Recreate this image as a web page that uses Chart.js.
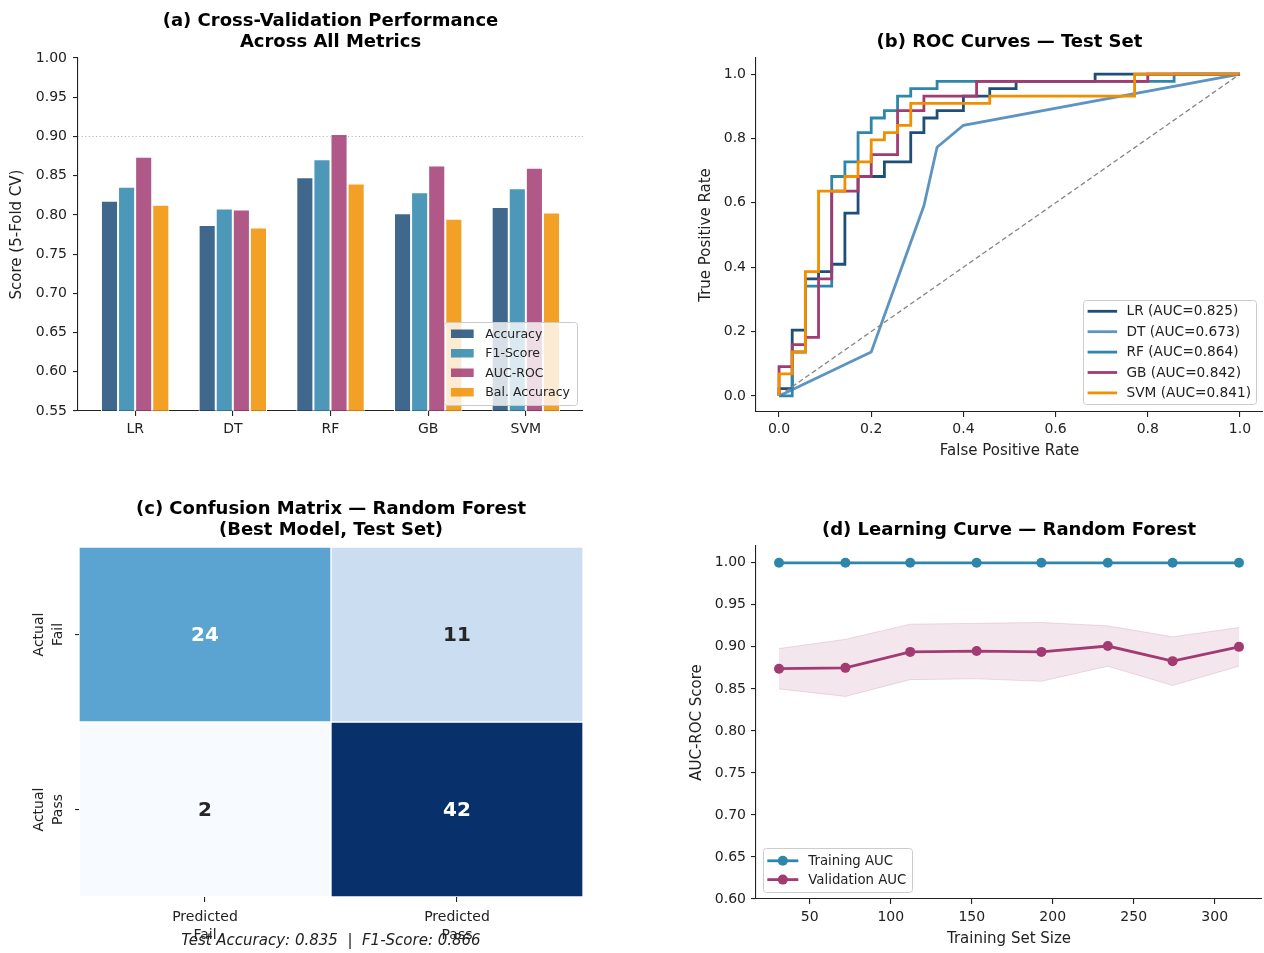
<!DOCTYPE html>
<html lang="en">
<head>
<meta charset="utf-8">
<title>Student Outcome Models — Evaluation Summary</title>
<script src="https://cdn.jsdelivr.net/npm/chart.js@4.4.1/dist/chart.umd.min.js"></script>
<style>
  html, body { margin: 0; padding: 0; background: #ffffff; }
  #figure { position: relative; width: 1264px; height: 953px; overflow: hidden; background: #ffffff; }
  #figure canvas { position: absolute; }
</style>
</head>
<body>
<div id="figure">
  <canvas id="cvChart"  width="600" height="470" style="left:0;top:0"></canvas>
  <canvas id="rocChart" width="624" height="470" style="left:640px;top:0"></canvas>
  <canvas id="cmChart"  width="600" height="473" style="left:0;top:480px"></canvas>
  <canvas id="lcChart"  width="624" height="473" style="left:640px;top:480px"></canvas>
</div>
<script>
// ---------------- data ----------------
// (a) 5-fold cross-validation scores per model
const models = ['LR', 'DT', 'RF', 'GB', 'SVM'];
const metricNames = ['Accuracy', 'F1-Score', 'AUC-ROC', 'Bal. Accuracy'];
const cvAccuracy    = [0.818, 0.787, 0.848, 0.802, 0.810];
const cvF1          = [0.836, 0.808, 0.871, 0.829, 0.834];
const cvAucRoc      = [0.874, 0.807, 0.903, 0.863, 0.860];
const cvBalAccuracy = [0.813, 0.784, 0.840, 0.795, 0.803];
const cvTicks = [0.55, 0.60, 0.65, 0.70, 0.75, 0.80, 0.85, 0.90, 0.95, 1.00];
const cvReference = 0.90;

// (c) confusion matrix of the random forest on the test set
// rows: actual class, columns: predicted class
const classNames = ['Fail', 'Pass'];
const confusion = [[24, 11], [2, 42]];

// (b) ROC curve vertices on the test set, as counts of false / true positives
const lrFalsePos  = [0,0,1,1,2,2,3,3,4,4,5,5,6,6,8,8,10,10,11,11,12,12,14,14,16,16,18,18,24,24,35];
const lrTruePos   = [0,1,1,9,9,16,16,17,17,18,18,25,25,30,30,32,32,36,36,38,38,39,39,41,41,42,42,43,43,44,44];
const dtFalsePos  = [0,7,11,12,14,35];
const dtTruePos   = [0,6,26,34,37,44];
const rfFalsePos  = [0,1,1,2,2,4,4,5,5,6,6,7,7,8,8,9,9,10,10,12,12,30,30,35];
const rfTruePos   = [0,0,6,6,15,15,30,30,32,32,36,36,38,38,39,39,41,41,42,42,43,43,44,44];
const gbFalsePos  = [0,0,1,1,2,2,3,3,4,4,6,6,7,7,9,9,11,11,15,15,28,28,35];
const gbTruePos   = [0,4,4,7,7,8,8,16,16,28,28,30,30,33,33,39,39,41,41,43,43,44,44];
const svmFalsePos = [0,0,1,1,2,2,3,3,5,5,6,6,7,7,8,8,9,9,10,10,16,16,27,27,35];
const svmTruePos  = [0,3,3,6,6,17,17,28,28,30,30,32,32,35,35,36,36,37,37,40,40,41,41,44,44];
const rateTicks = [0, 0.2, 0.4, 0.6, 0.8, 1.0];

// (d) learning curve of the random forest
const trainSizes = [31, 72, 112, 153, 193, 234, 274, 315];
const trainAuc   = [1.000, 1.000, 1.000, 1.000, 1.000, 1.000, 1.000, 1.000];
const valAuc     = [0.874, 0.875, 0.894, 0.895, 0.894, 0.901, 0.883, 0.900];
const valAucStd  = [0.024, 0.034, 0.033, 0.033, 0.035, 0.024, 0.029, 0.023];
const sizeTicks = [50, 100, 150, 200, 250, 300];
const lcTicks = [0.60, 0.65, 0.70, 0.75, 0.80, 0.85, 0.90, 0.95, 1.00];

// ---------------- style ----------------
const FONT = "'DejaVu Sans', 'Liberation Sans', sans-serif";
const INK = '#222222';
Chart.defaults.font.family = FONT;
Chart.defaults.color = INK;
Chart.defaults.animation = false;
Chart.defaults.plugins.legend.display = false;
Chart.defaults.plugins.tooltip.enabled = false;

const metricColors = ['rgba(31,78,121,0.85)', 'rgba(46,134,171,0.85)', 'rgba(162,59,114,0.85)', 'rgba(241,143,1,0.85)'];
const modelColors = ['#1f4e79', '#5e94c2', '#2e86ab', '#a23b72', '#f18f01'];
const TRAIN_COLOR = '#2e86ab';
const VAL_COLOR = '#a23b72';
const BLUES = [[247,251,255],[222,235,247],[198,219,239],[158,202,225],[107,174,214],[66,146,198],[33,113,181],[8,81,156],[8,48,107]];

// ---------------- helpers ----------------
// fixed axis sizes keep every plot area at a set place in the figure
const fixWidth = w => s => { s.width = w; s.paddingTop = 0; s.paddingBottom = 0; };
const fixHeight = h => s => { s.height = h; s.paddingLeft = 0; s.paddingRight = 0; };
const setTicks = vals => s => { s.ticks = vals.map(v => ({ value: v })); };

function tickGrid(len) {
  return { display: true, drawOnChartArea: false, drawTicks: true, tickLength: len, color: INK, lineWidth: 1.1, offset: false };
}
const spine = { display: true, color: INK, width: 1.1 };
const titleFont = { size: 18, weight: 'bold', lineHeight: 1.17 };

function blues(t) {
  t = Math.min(1, Math.max(0, t));
  const p = t * (BLUES.length - 1);
  const i = Math.min(Math.floor(p), BLUES.length - 2);
  const f = p - i;
  return BLUES[i].map((v, k) => Math.round(v + (BLUES[i + 1][k] - v) * f));
}
function luminance(rgb) {
  const lin = rgb.map(v => { v /= 255; return v <= 0.03928 ? v / 12.92 : Math.pow((v + 0.055) / 1.055, 2.4); });
  return 0.2126 * lin[0] + 0.7152 * lin[1] + 0.0722 * lin[2];
}

function roundedRect(ctx, x, y, w, h, r) {
  ctx.beginPath();
  ctx.moveTo(x + r, y);
  ctx.lineTo(x + w - r, y); ctx.arcTo(x + w, y, x + w, y + r, r);
  ctx.lineTo(x + w, y + h - r); ctx.arcTo(x + w, y + h, x + w - r, y + h, r);
  ctx.lineTo(x + r, y + h); ctx.arcTo(x, y + h, x, y + h - r, r);
  ctx.lineTo(x, y + r); ctx.arcTo(x, y, x + r, y, r);
  ctx.closePath();
}

// framed legend drawn on top of the plot area
function boxLegend(cfg) {
  return {
    id: 'boxLegend',
    afterDraw(chart) {
      const { ctx, chartArea: a } = chart;
      ctx.save();
      ctx.font = `${cfg.fontSize}px ${FONT}`;
      const textW = Math.max(...cfg.items.map(it => ctx.measureText(it.label).width));
      const w = cfg.padL + cfg.handleW + cfg.gap + textW + cfg.padR;
      const h = cfg.padV * 2 + cfg.items.length * cfg.rowH;
      const left = cfg.corner === 'right' ? a.right - cfg.marginX - w : a.left + cfg.marginX;
      const top = a.bottom - cfg.marginY - h;
      roundedRect(ctx, Math.round(left) + 0.5, Math.round(top) + 0.5, Math.round(w), Math.round(h), 3);
      ctx.fillStyle = 'rgba(255,255,255,0.8)';
      ctx.fill();
      ctx.strokeStyle = '#cccccc';
      ctx.lineWidth = 1;
      ctx.stroke();
      cfg.items.forEach((it, i) => {
        const cy = top + cfg.padV + cfg.rowH * (i + 0.5);
        const hx = left + cfg.padL;
        if (it.kind === 'rect') {
          ctx.fillStyle = it.color;
          ctx.fillRect(hx, cy - cfg.handleH / 2, cfg.handleW, cfg.handleH);
        } else {
          ctx.strokeStyle = it.color;
          ctx.lineWidth = cfg.lineW;
          ctx.beginPath(); ctx.moveTo(hx, cy); ctx.lineTo(hx + cfg.handleW, cy); ctx.stroke();
          if (it.kind === 'lineMarker') {
            ctx.fillStyle = it.color;
            ctx.beginPath(); ctx.arc(hx + cfg.handleW / 2, cy, cfg.markerR, 0, Math.PI * 2); ctx.fill();
          }
        }
        ctx.fillStyle = INK;
        ctx.textAlign = 'left';
        ctx.textBaseline = 'middle';
        ctx.fillText(it.label, hx + cfg.handleW + cfg.gap, cy + 0.5);
      });
      ctx.restore();
    }
  };
}

// ---------------- (a) cross-validation bars ----------------
const cvSeries = [cvAccuracy, cvF1, cvAucRoc, cvBalAccuracy];
const refLine = {
  id: 'refLine',
  beforeDatasetsDraw(chart) {
    const { ctx, chartArea: a, scales: { y } } = chart;
    const py = Math.round(y.getPixelForValue(cvReference)) + 0.5;
    ctx.save();
    ctx.strokeStyle = '#b8b8b8';
    ctx.lineWidth = 1;
    ctx.setLineDash([1.2, 2.4]);
    ctx.beginPath(); ctx.moveTo(a.left, py); ctx.lineTo(a.right, py); ctx.stroke();
    ctx.restore();
  }
};

new Chart(document.getElementById('cvChart'), {
  type: 'bar',
  data: {
    datasets: cvSeries.map((vals, k) => ({
      label: metricNames[k],
      data: vals.map((v, i) => ({ x: i, y: v })),
      backgroundColor: metricColors[k],
      borderColor: '#ffffff',
      borderWidth: 1,
      categoryPercentage: 0.7,
      barPercentage: 1.0
    }))
  },
  options: {
    responsive: false,
    devicePixelRatio: 1,
    layout: { autoPadding: false, padding: { left: 0, right: 17, top: 0, bottom: 0 } },
    scales: {
      x: {
        type: 'linear', min: -0.585, max: 4.585, bounds: 'data', offset: false,
        afterBuildTicks: setTicks(models.map((m, i) => i)),
        afterFit: fixHeight(59),
        grid: tickGrid(5), border: spine,
        ticks: { callback: v => models[v], font: { size: 14 }, padding: 5, maxRotation: 0, autoSkip: false }
      },
      y: {
        type: 'linear', min: cvTicks[0], max: cvTicks[cvTicks.length - 1], bounds: 'data',
        afterBuildTicks: setTicks(cvTicks),
        afterFit: fixWidth(78),
        grid: tickGrid(5), border: spine,
        ticks: { callback: v => v.toFixed(2), font: { size: 14 }, padding: 6, autoSkip: false },
        title: { display: true, text: 'Score (5-Fold CV)', font: { size: 15 }, padding: { top: 8, bottom: 0 }, color: INK }
      }
    },
    plugins: {
      title: { display: true, fullSize: false, text: ['(a) Cross-Validation Performance', 'Across All Metrics'], color: '#000', font: titleFont, padding: { top: 10.5, bottom: 5.4 } }
    }
  },
  plugins: [refLine, boxLegend({
    corner: 'right', marginX: 6, marginY: 6.5, padL: 7.4, handleW: 22.7, handleH: 8.5, gap: 11.6, padR: 7,
    rowH: 19.5, padV: 2.5, fontSize: 12.5,
    items: metricNames.map((n, k) => ({ label: n, color: metricColors[k], kind: 'rect' }))
  })]
});

// ---------------- (b) ROC curves ----------------
const negatives = confusion[0][0] + confusion[0][1];
const positives = confusion[1][0] + confusion[1][1];
const rocCounts = [
  [lrFalsePos, lrTruePos], [dtFalsePos, dtTruePos], [rfFalsePos, rfTruePos],
  [gbFalsePos, gbTruePos], [svmFalsePos, svmTruePos]
];
const rocPoints = rocCounts.map(([fp, tp]) => fp.map((f, i) => ({ x: f / negatives, y: tp[i] / positives })));
const rocAuc = rocPoints.map(pts => {
  let area = 0;
  for (let i = 1; i < pts.length; i++) area += (pts[i].x - pts[i - 1].x) * (pts[i].y + pts[i - 1].y) / 2;
  return area;
});
const rocLabels = models.map((m, k) => `${m} (AUC=${rocAuc[k].toFixed(3)})`);

new Chart(document.getElementById('rocChart'), {
  type: 'scatter',
  data: {
    datasets: [
      ...rocPoints.map((pts, k) => ({
        label: rocLabels[k],
        data: pts,
        showLine: true,
        borderColor: modelColors[k],
        backgroundColor: modelColors[k],
        borderWidth: 2.8,
        pointRadius: 0,
        tension: 0,
        order: models.length - 1 - k
      })),
      {
        label: 'Chance',
        data: [{ x: 0, y: 0 }, { x: 1, y: 1 }],
        showLine: true,
        borderColor: '#858585',
        borderWidth: 1.3,
        borderDash: [5, 3],
        pointRadius: 0,
        order: -1
      }
    ]
  },
  options: {
    responsive: false,
    devicePixelRatio: 1,
    layout: { autoPadding: false, padding: { left: 0, right: 1, top: 0, bottom: 0 } },
    scales: {
      x: {
        type: 'linear', min: -0.05, max: 1.05, bounds: 'data',
        afterBuildTicks: setTicks(rateTicks),
        afterFit: fixHeight(58),
        grid: tickGrid(5), border: spine,
        ticks: { callback: v => v.toFixed(1), font: { size: 14 }, padding: 4, maxRotation: 0, autoSkip: false },
        title: { display: true, text: 'False Positive Rate', font: { size: 15 }, padding: { top: 0, bottom: 10 }, color: INK }
      },
      y: {
        type: 'linear', min: -0.05, max: 1.05, bounds: 'data',
        afterBuildTicks: setTicks(rateTicks),
        afterFit: fixWidth(116),
        grid: tickGrid(5), border: spine,
        ticks: { callback: v => v.toFixed(1), font: { size: 14 }, padding: 5, autoSkip: false },
        title: { display: true, text: 'True Positive Rate', font: { size: 15 }, padding: { top: 57, bottom: 0 }, color: INK }
      }
    },
    plugins: {
      title: { display: true, fullSize: false, text: '(b) ROC Curves — Test Set', color: '#000', font: titleFont, padding: { top: 31.5, bottom: 5.44 } }
    }
  },
  plugins: [boxLegend({
    corner: 'right', marginX: 7, marginY: 7.7, padL: 4.5, handleW: 29.5, gap: 9.4, padR: 5, lineW: 2.8,
    rowH: 20.4, padV: 1.2, fontSize: 13.7,
    items: rocLabels.map((l, k) => ({ label: l, color: modelColors[k], kind: 'line' }))
  })]
});

// ---------------- (c) confusion matrix ----------------
const nRows = classNames.length;
const cmFlat = confusion.flat();
const cmMin = Math.min(...cmFlat), cmMax = Math.max(...cmFlat);
const cellRgb = v => blues((v - cmMin) / (cmMax - cmMin));
const testAccuracy = (confusion[0][0] + confusion[1][1]) / (negatives + positives);
const testF1 = 2 * confusion[1][1] / (2 * confusion[1][1] + confusion[0][1] + confusion[1][0]);

const cellLabels = {
  id: 'cellLabels',
  afterDatasetsDraw(chart) {
    const ctx = chart.ctx;
    ctx.save();
    ctx.font = `bold 20px ${FONT}`;
    ctx.textAlign = 'center';
    ctx.textBaseline = 'middle';
    chart.data.datasets.forEach((ds, r) => {
      chart.getDatasetMeta(r).data.forEach((bar, c) => {
        const v = confusion[r][c];
        ctx.fillStyle = luminance(cellRgb(v)) > 0.408 ? '#262626' : '#ffffff';
        ctx.fillText(String(v), bar.x, (bar.y + bar.base) / 2 + 1);
      });
    });
    ctx.restore();
  }
};
const cmFooter = {
  id: 'cmFooter',
  afterDraw(chart) {
    const { ctx, chartArea: a } = chart;
    ctx.save();
    ctx.font = `italic 15px ${FONT}`;
    ctx.fillStyle = INK;
    ctx.textAlign = 'center';
    ctx.textBaseline = 'middle';
    ctx.fillText(`Test Accuracy: ${testAccuracy.toFixed(3)}  |  F1-Score: ${testF1.toFixed(3)}`, (a.left + a.right) / 2, 461);
    ctx.restore();
  }
};

new Chart(document.getElementById('cmChart'), {
  type: 'bar',
  data: {
    labels: classNames.map(c => ['Predicted', c]),
    datasets: confusion.map((row, r) => ({
      label: 'Actual ' + classNames[r],
      data: row.map(() => [nRows - 1 - r, nRows - r]),
      backgroundColor: ctx => `rgb(${cellRgb(confusion[r][ctx.dataIndex]).join(',')})`,
      borderColor: '#ffffff',
      borderWidth: 1,
      borderSkipped: false,
      grouped: false,
      categoryPercentage: 1.0,
      barPercentage: 1.0
    }))
  },
  options: {
    responsive: false,
    devicePixelRatio: 1,
    layout: { autoPadding: false, padding: { left: 0, right: 17, top: 0, bottom: 0 } },
    scales: {
      x: {
        type: 'category', offset: true,
        afterFit: fixHeight(56),
        grid: tickGrid(5), border: { display: false },
        ticks: { font: { size: 14, lineHeight: 1.3 }, padding: 6, maxRotation: 0, autoSkip: false }
      },
      y: {
        type: 'linear', min: 0, max: nRows, bounds: 'data',
        afterBuildTicks: setTicks(classNames.map((c, i) => i + 0.5)),
        afterFit: fixWidth(79),
        grid: tickGrid(4), border: { display: false },
        ticks: {
          callback: v => ['Actual', classNames[nRows - 1 - Math.floor(v)]],
          font: { size: 14, lineHeight: 1.35 }, padding: 4,
          minRotation: 90, maxRotation: 90, crossAlign: 'center', autoSkip: false
        }
      }
    },
    plugins: {
      title: { display: true, fullSize: false, text: ['(c) Confusion Matrix — Random Forest', '(Best Model, Test Set)'], color: '#000', font: titleFont, padding: { top: 18.47, bottom: 6.41 } }
    }
  },
  plugins: [cellLabels, cmFooter]
});

// ---------------- (d) learning curve ----------------
const valUpper = valAuc.map((v, i) => v + valAucStd[i]);
const valLower = valAuc.map((v, i) => v - valAucStd[i]);
const toXY = vals => vals.map((v, i) => ({ x: trainSizes[i], y: v }));

new Chart(document.getElementById('lcChart'), {
  type: 'line',
  data: {
    datasets: [
      { label: 'Validation +1 SD', data: toXY(valUpper), borderColor: 'rgba(162,59,114,0.16)', borderWidth: 1, pointRadius: 0, fill: false, tension: 0, order: 10 },
      { label: 'Validation -1 SD', data: toXY(valLower), borderColor: 'rgba(162,59,114,0.16)', backgroundColor: 'rgba(162,59,114,0.13)', borderWidth: 1, pointRadius: 0, fill: '-1', tension: 0, order: 9 },
      { label: 'Training AUC', data: toXY(trainAuc), borderColor: TRAIN_COLOR, backgroundColor: TRAIN_COLOR, borderWidth: 2.8, pointRadius: 5, pointBorderWidth: 0, pointBackgroundColor: TRAIN_COLOR, tension: 0, order: 1 },
      { label: 'Validation AUC', data: toXY(valAuc), borderColor: VAL_COLOR, backgroundColor: VAL_COLOR, borderWidth: 2.8, pointRadius: 5, pointBorderWidth: 0, pointBackgroundColor: VAL_COLOR, tension: 0, order: 0 }
    ]
  },
  options: {
    responsive: false,
    devicePixelRatio: 1,
    layout: { autoPadding: false, padding: { left: 0, right: 2, top: 0, bottom: 0 } },
    scales: {
      x: {
        type: 'linear', min: 16.8, max: 329.2, bounds: 'data',
        afterBuildTicks: setTicks(sizeTicks),
        afterFit: fixHeight(54),
        grid: tickGrid(5), border: spine,
        ticks: { callback: v => String(v), font: { size: 14 }, padding: 5, maxRotation: 0, autoSkip: false },
        title: { display: true, text: 'Training Set Size', font: { size: 15 }, padding: { top: 0, bottom: 5 }, color: INK }
      },
      y: {
        type: 'linear', min: 0.60, max: 1.02, bounds: 'data',
        afterBuildTicks: setTicks(lcTicks),
        afterFit: fixWidth(116),
        grid: tickGrid(5), border: spine,
        ticks: { callback: v => v.toFixed(2), font: { size: 14 }, padding: 5, autoSkip: false },
        title: { display: true, text: 'AUC-ROC Score', font: { size: 15 }, padding: { top: 48, bottom: 0 }, color: INK }
      }
    },
    plugins: {
      title: { display: true, fullSize: false, text: '(d) Learning Curve — Random Forest', color: '#000', font: titleFont, padding: { top: 39.47, bottom: 5.47 } }
    }
  },
  plugins: [boxLegend({
    corner: 'left', marginX: 7.3, marginY: 7, padL: 4, handleW: 31, gap: 10, padR: 6, lineW: 2.8, markerR: 5,
    rowH: 18.8, padV: 3, fontSize: 13.3,
    items: [
      { label: 'Training AUC', color: TRAIN_COLOR, kind: 'lineMarker' },
      { label: 'Validation AUC', color: VAL_COLOR, kind: 'lineMarker' }
    ]
  })]
});
</script>
</body>
</html>
